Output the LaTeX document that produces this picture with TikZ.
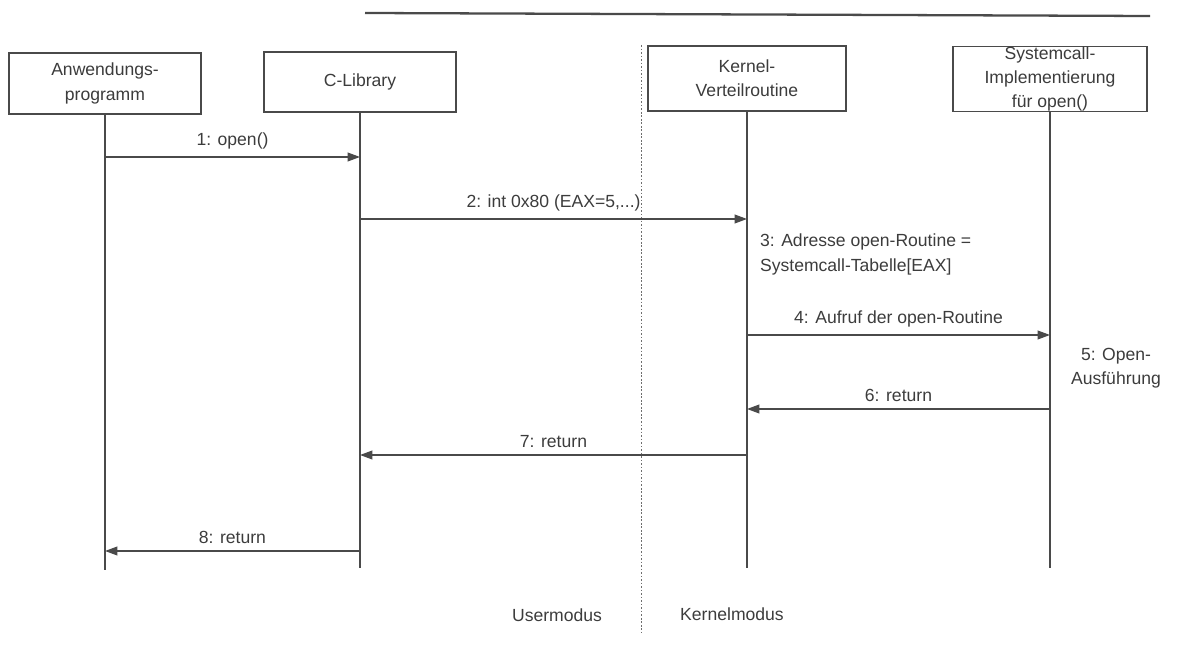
\documentclass[tikz,border=0pt]{standalone}
\usepackage{fontspec}
\setmainfont{Liberation Sans}
\usetikzlibrary{arrows.meta}
\definecolor{ink}{HTML}{4A4A4A}
\definecolor{txt}{HTML}{3C3C3C}
\begin{document}
\begin{tikzpicture}[x=0.02cm,y=-0.02cm,
  font=\fontsize{10}{13.8}\selectfont,
  obj/.style={draw=ink,line width=0.6pt,fill=white,align=center,text=txt,
              inner sep=0pt},
  life/.style={draw=ink,line width=0.6pt},
  msg/.style={draw=ink,line width=0.7pt,-{Triangle[length=7pt,width=5pt]}},
  lbl/.style={text=txt,inner sep=1pt}]
\useasboundingbox (0,0) rectangle (1191,648);
% page header rule
\draw[ink,line width=1.3pt] (365,13) -- (1150,16);
% user/kernel boundary
\draw[ink!80,line width=0.5pt,dash pattern=on 1pt off 1pt] (641,45) -- (641,632);
% objects
\node[obj,minimum width=3.84cm,minimum height=1.22cm] (A) at (105,83.5) {Anwendungs-\\programm};
\node[obj,minimum width=3.84cm,minimum height=1.2cm] (C) at (360,82) {C-Library};
\node[obj,minimum width=3.96cm,minimum height=1.3cm] (K) at (747,78.5) {Kernel-\\Verteilroutine};
\node[obj,minimum width=3.88cm,minimum height=1.28cm] (S) at (1050,79) {Systemcall-\\Implementierung\\für open()};
% lifelines
\coordinate (Ae) at (A |- 0,570);
\coordinate (Ce) at (C |- 0,568);
\coordinate (Ke) at (K |- 0,568);
\coordinate (Se) at (S |- 0,568);
\draw[life] (A.south) -- (Ae);
\draw[life] (C.south) -- (Ce);
\draw[life] (K.south) -- (Ke);
\draw[life] (S.south) -- (Se);
% messages
\draw[msg] (A |- 0,157) -- node[lbl,above=3pt] {1: open()} (C |- 0,157);
\draw[msg] (C |- 0,219) -- node[lbl,above=3pt] {2: int 0x80 (EAX=5,...)} (K |- 0,219);
\node[lbl,align=left,anchor=north west] (n3) at (758,232) {3: Adresse open-Routine =\\Systemcall-Tabelle[EAX]};
\draw[msg] (K |- 0,335) -- node[lbl,above=3pt] {4: Aufruf der open-Routine} (S |- 0,335);
\node[lbl,align=center] (n5) at (1116,368) {5: Open-\\Ausführung};
\draw[msg] (S |- 0,409) -- node[lbl,above=3pt] {6: return} (K |- 0,409);
\draw[msg] (K |- 0,455) -- node[lbl,above=3pt] {7: return} (C |- 0,455);
\draw[msg] (C |- 0,551) -- node[lbl,above=3pt] {8: return} (A |- 0,551);
% mode labels
\node[lbl] (um) at (557,615) {Usermodus};
\node[lbl] (km) at (732,614) {Kernelmodus};
\end{tikzpicture}
\end{document}
